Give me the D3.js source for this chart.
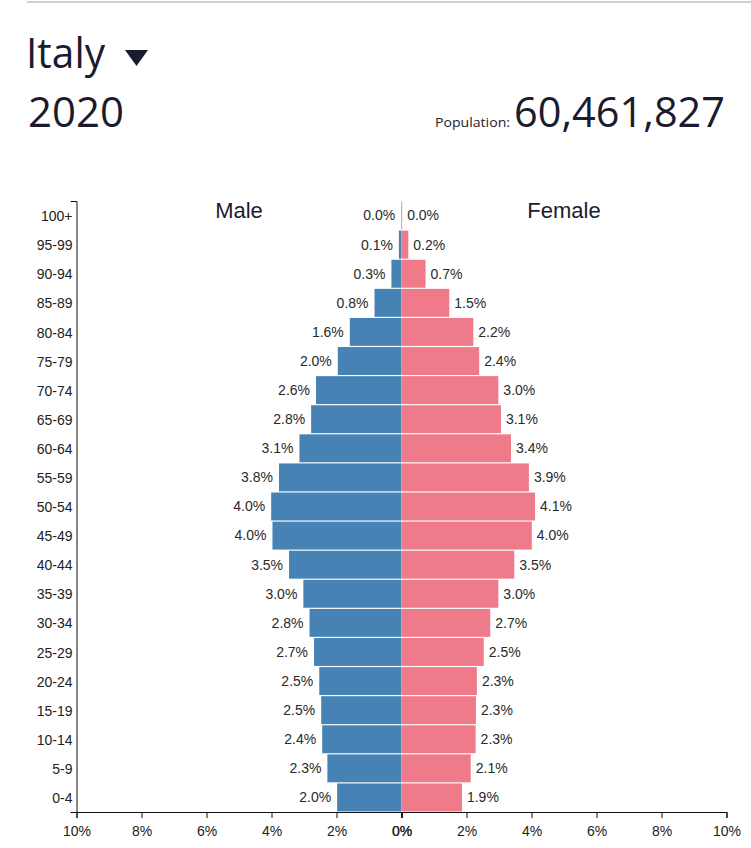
<!DOCTYPE html>
<html>
<head>
<meta charset="utf-8">
<script src="https://cdn.jsdelivr.net/npm/d3@7"></script>
<style>
  html, body { margin: 0; padding: 0; background: #fff; }
  svg { display: block; }
</style>
</head>
<body>
<svg id="chart" width="751" height="848"></svg>
<script>
// ---- data ----
const country = "Italy";
const year = "2020";
const population = 60461827;
const ageGroups = ["0-4","5-9","10-14","15-19","20-24","25-29","30-34","35-39","40-44","45-49",
                   "50-54","55-59","60-64","65-69","70-74","75-79","80-84","85-89","90-94","95-99","100+"];
const maleValues = [1.98,2.28,2.44,2.47,2.53,2.69,2.83,3.02,3.46,3.97,
                    4.01,3.77,3.14,2.78,2.63,1.96,1.59,0.83,0.31,0.08,0.01];
const femaleValues = [1.86,2.13,2.28,2.29,2.32,2.53,2.73,2.98,3.47,4.01,
                      4.11,3.92,3.37,3.06,2.98,2.39,2.21,1.47,0.74,0.21,0.02];
const xTicks = [0,2,4,6,8,10];
const sideLabels = ["Male","Female"];

// ---- layout ----
const svg = d3.select("#chart");
const plotLeft = 76.5, plotCenter = 401.5, plotRight = 726.5;
const plotTop = 201, plotBottom = 812;
const maleColor = "#4682b4", femaleColor = "#ef7a8a";

// header
svg.append("line").attr("x1", 27).attr("x2", 751).attr("y1", 2).attr("y2", 2)
  .attr("stroke", "#cfcfcf").attr("stroke-width", 2);

const titleColor = "#1b1b2e";
const titleFont = "'Open Sans', 'Noto Sans', sans-serif";
svg.append("text").attr("x", 26).attr("y", 68).text(country)
  .attr("font-family", titleFont).attr("font-size", 42).attr("fill", titleColor)
  .attr("textLength", 79).attr("lengthAdjust", "spacingAndGlyphs");
svg.append("path").attr("d", "M125,50 L148,50 L136.5,66 Z").attr("fill", titleColor);
svg.append("text").attr("x", 28).attr("y", 127).text(year)
  .attr("font-family", titleFont).attr("font-size", 42).attr("fill", titleColor)
  .attr("textLength", 96).attr("lengthAdjust", "spacingAndGlyphs");
svg.append("text").attr("x", 725).attr("y", 127).attr("text-anchor", "end")
  .text(d3.format(",")(population))
  .attr("font-family", titleFont).attr("font-size", 42).attr("fill", titleColor)
  .attr("textLength", 211).attr("lengthAdjust", "spacingAndGlyphs");
svg.append("text").attr("x", 510).attr("y", 127).attr("text-anchor", "end")
  .text("Population:")
  .attr("font-family", titleFont).attr("font-size", 13).attr("fill", titleColor)
  .attr("textLength", 75).attr("lengthAdjust", "spacingAndGlyphs");

// scales
const xm = d3.scaleLinear().domain([0, 10]).range([plotCenter, plotLeft]);
const xf = d3.scaleLinear().domain([0, 10]).range([plotCenter, plotRight]);
const y = d3.scaleBand().domain(ageGroups.slice().reverse()).range([plotTop, plotBottom]).paddingInner(0.04).paddingOuter(0.02);

const rows = ageGroups.map((a, i) => ({age: a, m: maleValues[i], f: femaleValues[i]}));
const fmt = d => d3.format(".1f")(d) + "%";
const labelFont = "'Liberation Sans', Arial, sans-serif";

const g = svg.append("g");
g.selectAll("rect.male").data(rows).join("rect").attr("class", "male")
  .attr("x", d => xm(d.m)).attr("width", d => plotCenter - xm(d.m))
  .attr("y", d => y(d.age)).attr("height", y.bandwidth()).attr("fill", maleColor);
g.selectAll("rect.female").data(rows).join("rect").attr("class", "female")
  .attr("x", plotCenter).attr("width", d => xf(d.f) - plotCenter)
  .attr("y", d => y(d.age)).attr("height", y.bandwidth()).attr("fill", femaleColor);

g.selectAll("text.ml").data(rows).join("text").attr("class", "ml")
  .attr("x", d => xm(d.m) - 6).attr("y", d => y(d.age) + y.bandwidth() / 2)
  .attr("dy", "0.35em").attr("text-anchor", "end").text(d => fmt(d.m))
  .attr("font-family", labelFont).attr("font-size", 14).attr("fill", "#2a2a2a");
g.selectAll("text.fl").data(rows).join("text").attr("class", "fl")
  .attr("x", d => xf(d.f) + 5).attr("y", d => y(d.age) + y.bandwidth() / 2)
  .attr("dy", "0.35em").attr("text-anchor", "start").text(d => fmt(d.f))
  .attr("font-family", labelFont).attr("font-size", 14).attr("fill", "#2a2a2a");

// side labels
svg.selectAll("text.side").data(sideLabels).join("text").attr("class", "side")
  .attr("x", (d, i) => i === 0 ? (plotLeft + plotCenter) / 2 : (plotCenter + plotRight) / 2)
  .attr("y", 218).attr("text-anchor", "middle").text(d => d)
  .attr("font-family", labelFont).attr("font-size", 22).attr("fill", "#1b1b2e");

// axes
const yAxis = d3.axisLeft(y).tickSizeInner(0).tickSizeOuter(6).tickPadding(4);
const ya = svg.append("g").attr("transform", `translate(${plotLeft},0)`).call(yAxis);
ya.selectAll("text").attr("font-family", labelFont).attr("font-size", 14).attr("fill", "#222").attr("dy", "0.4em");

const fmtTick = d => d + "%";
const xam = svg.append("g").attr("transform", `translate(0,${plotBottom})`)
  .call(d3.axisBottom(xm).tickValues(xTicks).tickFormat(fmtTick).tickPadding(8));
const xaf = svg.append("g").attr("transform", `translate(0,${plotBottom})`)
  .call(d3.axisBottom(xf).tickValues(xTicks).tickFormat(fmtTick).tickPadding(8));
[xam, xaf].forEach(a => a.selectAll("text").attr("font-family", labelFont).attr("font-size", 14).attr("fill", "#222"));
[ya, xam, xaf].forEach(a => a.selectAll("path, line").attr("stroke", "#111"));
</script>
</body>
</html>
